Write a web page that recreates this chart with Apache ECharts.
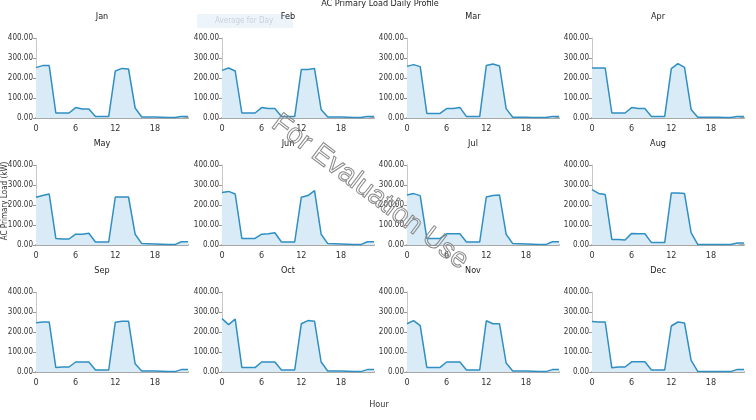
<!DOCTYPE html>
<html style="height: 100%">
<head>
	<meta charset="utf-8">
</head>
<body style="height: 100%; margin: 0; background: #fff">
<div id="container" style="width: 756px; height: 420px"></div>
<script type="text/javascript" src="https://cdn.jsdelivr.net/npm/echarts@6/dist/echarts.min.js"></script>
<script type="text/javascript">
    // hourly average AC primary load (kW), one array per month
    var hours = [];
    for (var h = 0; h < 24; h++) hours.push(h);
    var months = ['Jan', 'Feb', 'Mar', 'Apr', 'May', 'Jun', 'Jul', 'Aug', 'Sep', 'Oct', 'Nov', 'Dec'];
    var yTicks = [0, 100, 200, 300, 400];
    var xTicks = [0, 6, 12, 18];

    var jan = [252, 262, 262, 25, 25, 25, 52, 45, 45, 7, 7, 7, 235, 248, 245, 50, 5, 5, 5, 4, 2, 2, 8, 8];
    var feb = [238, 250, 235, 25, 25, 25, 52, 47, 47, 7, 7, 7, 242, 243, 247, 43, 5, 5, 5, 4, 2, 2, 7, 8];
    var mar = [258, 267, 257, 23, 23, 23, 47, 47, 53, 7, 7, 7, 262, 270, 260, 47, 4, 4, 4, 3, 3, 2, 8, 8];
    var apr = [250, 250, 250, 25, 25, 25, 52, 47, 47, 8, 8, 8, 247, 272, 253, 43, 4, 4, 4, 4, 3, 2, 8, 8];
    var may = [239, 247, 255, 33, 30, 30, 54, 54, 59, 15, 15, 15, 240, 240, 240, 54, 7, 6, 5, 4, 3, 2, 16, 16];
    var jun = [262, 268, 255, 33, 33, 33, 54, 56, 61, 15, 15, 15, 239, 247, 272, 54, 7, 6, 5, 4, 3, 2, 16, 16];
    var jul = [250, 257, 247, 33, 33, 33, 56, 56, 56, 15, 15, 15, 240, 247, 250, 54, 7, 6, 5, 4, 3, 2, 16, 16];
    var aug = [277, 258, 252, 28, 28, 25, 58, 56, 56, 12, 12, 12, 260, 260, 257, 61, 3, 3, 3, 3, 2, 2, 10, 10];
    var sep = [246, 250, 250, 22, 25, 25, 50, 50, 50, 10, 10, 10, 249, 254, 254, 41, 5, 5, 5, 4, 3, 2, 12, 12];
    var oct = [267, 237, 264, 23, 23, 22, 50, 50, 50, 10, 10, 10, 241, 257, 254, 50, 5, 5, 5, 4, 3, 2, 12, 12];
    var nov = [241, 257, 232, 23, 23, 23, 50, 50, 50, 10, 10, 10, 256, 241, 241, 45, 5, 5, 5, 4, 3, 2, 12, 12];
    var dec = [253, 250, 250, 21, 25, 25, 51, 51, 51, 10, 10, 10, 230, 250, 245, 58, 3, 3, 3, 3, 2, 2, 13, 13];
    var monthData = [jan, feb, mar, apr, may, jun, jul, aug, sep, oct, nov, dec];

    var font = '"Liberation Sans Narrow", "DejaVu Sans Condensed", sans-serif';
    var colLeft = [36, 222, 407, 592];
    var rowTop = [38, 165, 292];
    var plotW = 152, plotH = 80;

    var dom = document.getElementById("container");
    var myChart = echarts.init(dom);

    var grids = [], xAxes = [], yAxes = [], series = [];
    var titles = [{
        text: 'AC Primary Load Daily Profile',
        left: 380,
        top: -1,
        textAlign: 'center',
        padding: 0,
        textStyle: {fontSize: 9, fontWeight: 'normal', color: '#222', fontFamily: font}
    }];

    for (var i = 0; i < 12; i++) {
        var c = i % 4, r = Math.floor(i / 4);
        grids.push({left: colLeft[c], top: rowTop[r], width: plotW, height: plotH});
        titles.push({
            text: months[i],
            left: colLeft[c] + plotW / 2 - 10,
            top: rowTop[r] - 26,
            textAlign: 'center',
            padding: 0,
            textStyle: {fontSize: 9, fontWeight: 'normal', color: '#222', fontFamily: font}
        });
        xAxes.push({
            type: 'value',
            gridIndex: i,
            min: 0,
            max: 23,
            interval: 6,
            axisLine: {lineStyle: {color: '#a8a8a8', width: 2}},
            axisTick: {show: false},
            splitLine: {show: false},
            axisLabel: {
                fontSize: 9, color: '#333', fontFamily: font, margin: 6,
                showMaxLabel: false,
                formatter: function (v) { return xTicks.indexOf(v) >= 0 ? String(v) : ''; }
            }
        });
        yAxes.push({
            type: 'value',
            gridIndex: i,
            min: yTicks[0],
            max: yTicks[yTicks.length - 1],
            interval: 100,
            axisLine: {show: true, lineStyle: {color: '#c8c8c8', width: 1}},
            axisTick: {show: true, length: 3, lineStyle: {color: '#999'}},
            splitLine: {show: false},
            axisLabel: {
                fontSize: 8, color: '#333', fontFamily: font, margin: 3,
                formatter: function (v) { return v.toFixed(2); }
            }
        });
        series.push({
            name: 'Average for Day',
            type: 'line',
            xAxisIndex: i,
            yAxisIndex: i,
            showSymbol: false,
            silent: true,
            data: hours.map(function (hh) { return [hh, monthData[i][hh]]; }),
            lineStyle: {color: '#2f8fc3', width: 1.5},
            itemStyle: {color: '#2f8fc3'},
            areaStyle: {color: '#d8ebf6', opacity: 1}
        });
    }

    var option = {
        backgroundColor: '#fff',
        animation: false,
        title: titles,
        grid: grids,
        xAxis: xAxes,
        yAxis: yAxes,
        series: series,
        graphic: [
            {
                type: 'rect',
                shape: {x: 197, y: 14, width: 96, height: 14},
                style: {fill: '#eef5fa'}
            },
            {
                type: 'text',
                x: 215, y: 21,
                style: {text: 'Average for Day', font: '8px ' + font, fill: '#c5d2dc', verticalAlign: 'middle'}
            },
            {
                type: 'text',
                x: 5, y: 201,
                rotation: Math.PI / 2,
                style: {text: 'AC Primary Load (kW)', font: '8px ' + font, fill: '#333', align: 'center', verticalAlign: 'middle'}
            },
            {
                type: 'text',
                x: 379, y: 405,
                style: {text: 'Hour', font: '9px ' + font, fill: '#333', align: 'center', verticalAlign: 'middle'}
            },
            {
                type: 'text',
                x: 370, y: 192,
                rotation: -0.646,
                z: 100,
                style: {
                    text: 'For Evaluation Use',
                    font: '28px "Liberation Sans", sans-serif',
                    fill: 'rgba(255,255,255,0)',
                    stroke: '#8a8a8a',
                    lineWidth: 1,
                    align: 'center',
                    verticalAlign: 'middle'
                }
            }
        ]
    };

    myChart.setOption(option);

    window.addEventListener('resize', function () {
        myChart.resize();
    });
</script>
</body>
</html>
